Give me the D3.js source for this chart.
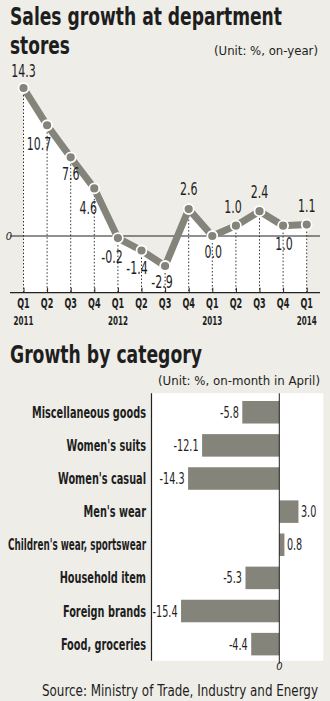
<!DOCTYPE html>
<html>
<head>
<meta charset="utf-8">
<script src="https://cdn.jsdelivr.net/npm/d3@7"></script>
<style>
  body { margin: 0; background: #eeede7; }
  svg { display: block; font-family: "DejaVu Sans Condensed", "DejaVu Sans", sans-serif; }
</style>
</head>
<body>
<div id="chart"></div>
<script>
// quarterly sales growth, on-year
var quarters = ["Q1", "Q2", "Q3", "Q4", "Q1", "Q2", "Q3", "Q4", "Q1", "Q2", "Q3", "Q4", "Q1"];
var years = ["2011", "", "", "", "2012", "", "", "", "2013", "", "", "", "2014"];
var growth = [14.3, 10.7, 7.6, 4.6, -0.2, -1.4, -2.9, 2.6, 0.0, 1.0, 2.4, 1.0, 1.1];

// growth by category, on-month in April
var categories = ["Miscellaneous goods", "Women's suits", "Women's casual", "Men's wear",
    "Children's wear, sportswear", "Household item", "Foreign brands", "Food, groceries"];
var categoryGrowth = [-5.8, -12.1, -14.3, 3.0, 0.8, -5.3, -15.4, -4.4];

// where each point label sits: [dx, dy] from the point
var labelOffset = [[0, -11], [-8, 25], [0, 23], [-6, 26], [-6, 25], [-4.5, 24], [-3, 22],
    [0, -14], [1, 22], [-3, -13], [0, -13], [1, 24], [0, -13]];

var svgWidth = 330;
var svgHeight = 701;
var ink = "#1e1e1e";
var gray = "#85847a";

// squeeze text horizontally so that refString comes out refWidth wide,
// and nothing gets wider than maxWidth
function condense(sel, refString, refWidth, maxWidth) {
    var ratio = 1;
    sel.each(function () {
        if (this.textContent === refString) ratio = refWidth / this.getComputedTextLength();
    });
    sel.each(function () {
        var w = this.getComputedTextLength() * ratio;
        if (maxWidth && w > maxWidth) w = maxWidth;
        if (w > 0) {
            d3.select(this)
                .attr("textLength", w)
                .attr("lengthAdjust", "spacingAndGlyphs");
        }
    });
}

function fixedText(parent, x, y, anchor, size, weight, width, str) {
    return parent.append("text")
        .attr("x", x).attr("y", y)
        .attr("text-anchor", anchor)
        .attr("textLength", width).attr("lengthAdjust", "spacingAndGlyphs")
        .style("font-size", size + "px").style("font-weight", weight).style("fill", ink)
        .text(str);
}

var svg = d3.select("#chart")
    .append("svg")
    .attr("width", svgWidth)
    .attr("height", svgHeight);

// ---- titles
fixedText(svg, 10, 25, "start", 25, "bold", 272, "Sales growth at department");
fixedText(svg, 10, 54, "start", 25, "bold", 60, "stores");
fixedText(svg, 318, 55, "end", 13, "normal", 104, "(Unit: %, on-year)");

// ---- line chart
var baseY = 292.7;
var xScale = d3.scalePoint()
    .domain(d3.range(growth.length))
    .range([23.5, 306.7]);
var yScale = d3.scaleLinear()
    .domain([0, 14.3])
    .range([236, 88]);

var lineGroup = svg.append("g");

// white fill below the line
lineGroup.append("path")
    .datum(growth)
    .attr("d", d3.area()
        .x((d, i) => xScale(i))
        .y0(baseY)
        .y1(d => yScale(d)))
    .attr("fill", "#ffffff");

// dotted drop lines
lineGroup.selectAll(".drop")
    .data(growth)
    .enter()
    .append("line")
    .attr("x1", (d, i) => xScale(i))
    .attr("x2", (d, i) => xScale(i))
    .attr("y1", d => yScale(d))
    .attr("y2", baseY)
    .attr("stroke", "#333")
    .attr("stroke-width", 1)
    .attr("stroke-dasharray", "1.5,2");

// zero line
lineGroup.append("line")
    .attr("x1", 10).attr("x2", 320)
    .attr("y1", yScale(0)).attr("y2", yScale(0))
    .attr("stroke", "#222").attr("stroke-width", 1);
lineGroup.append("text")
    .attr("x", 9).attr("y", yScale(0) + 4)
    .attr("text-anchor", "middle")
    .style("font-size", "11px").style("font-style", "italic").style("fill", ink)
    .text("0");

// bottom axis
var xAxis = d3.axisBottom(xScale).tickSize(-5).tickFormat("").tickSizeOuter(0);
var axisG = lineGroup.append("g")
    .attr("transform", `translate(0, ${baseY})`)
    .call(xAxis);
axisG.select(".domain").remove();
axisG.selectAll(".tick line").attr("stroke", "#222");
lineGroup.append("line")
    .attr("x1", 10).attr("x2", 320)
    .attr("y1", baseY).attr("y2", baseY)
    .attr("stroke", "#222").attr("stroke-width", 1.2);

var qLabels = lineGroup.selectAll(".qLabel")
    .data(quarters)
    .enter()
    .append("text")
    .attr("x", (d, i) => xScale(i))
    .attr("y", 307.5)
    .attr("text-anchor", "middle")
    .style("font-size", "14px").style("font-weight", "bold").style("fill", ink)
    .text(d => d);
condense(qLabels, "Q1", 12.5);

var yLabels = lineGroup.selectAll(".yLabel")
    .data(years)
    .enter()
    .append("text")
    .attr("x", (d, i) => xScale(i))
    .attr("y", 324.5)
    .attr("text-anchor", "middle")
    .style("font-size", "11.5px").style("font-weight", "bold").style("fill", ink)
    .text(d => d);
condense(yLabels, "2011", 20);

// the line and its points
lineGroup.append("path")
    .datum(growth)
    .attr("d", d3.line()
        .x((d, i) => xScale(i))
        .y(d => yScale(d)))
    .attr("fill", "none")
    .attr("stroke", gray)
    .attr("stroke-width", 7)
    .attr("stroke-linejoin", "round");

lineGroup.selectAll(".dot")
    .data(growth)
    .enter()
    .append("circle")
    .attr("cx", (d, i) => xScale(i))
    .attr("cy", d => yScale(d))
    .attr("r", 5)
    .attr("fill", gray)
    .attr("stroke", "#ffffff")
    .attr("stroke-width", 1.8);

var valLabels = lineGroup.selectAll(".valLabel")
    .data(growth)
    .enter()
    .append("text")
    .attr("x", (d, i) => xScale(i) + labelOffset[i][0])
    .attr("y", (d, i) => yScale(d) + labelOffset[i][1])
    .attr("text-anchor", "middle")
    .style("font-size", "17.5px").style("fill", ink)
    .text(d => d.toFixed(1));
condense(valLabels, "10.7", 24.5);

// ---- bar chart
fixedText(svg, 10, 363, "start", 25, "bold", 192, "Growth by category");
fixedText(svg, 320, 385, "end", 13, "normal", 162, "(Unit: %, on-month in April)");

var plotLeft = 151.5;
var plotRight = 323.3;
var plotTop = 393.3;
var plotBottom = 660.7;

var barX = d3.scaleLinear()
    .domain([0, 1])
    .range([279.3, 279.3 + 6.38]);
var barY = d3.scaleBand()
    .domain(categories)
    .range([plotTop + 2.4, plotBottom])
    .paddingInner(0.32)
    .paddingOuter(0.16);

var barGroup = svg.append("g");

barGroup.append("rect")
    .attr("x", plotLeft).attr("y", plotTop)
    .attr("width", plotRight - plotLeft).attr("height", plotBottom - plotTop)
    .attr("fill", "#ffffff");
barGroup.append("line")
    .attr("x1", plotLeft).attr("x2", plotLeft)
    .attr("y1", plotTop).attr("y2", plotBottom)
    .attr("stroke", "#222").attr("stroke-width", 1.2);

barGroup.selectAll(".bar")
    .data(categoryGrowth)
    .enter()
    .append("rect")
    .attr("x", d => Math.min(barX(d), barX(0)))
    .attr("y", (d, i) => barY(categories[i]))
    .attr("width", d => Math.abs(barX(d) - barX(0)))
    .attr("height", barY.bandwidth())
    .attr("fill", gray);

barGroup.append("line")
    .attr("x1", barX(0)).attr("x2", barX(0))
    .attr("y1", plotTop).attr("y2", plotBottom + 3)
    .attr("stroke", "#222").attr("stroke-width", 1);
barGroup.append("text")
    .attr("x", barX(0)).attr("y", 670)
    .attr("text-anchor", "middle")
    .style("font-size", "11px").style("font-style", "italic").style("fill", ink)
    .text("0");

// category names
var catLabels = barGroup.selectAll(".catLabel")
    .data(categories)
    .enter()
    .append("text")
    .attr("x", 146)
    .attr("y", d => barY(d) + barY.bandwidth() / 2 + 5.5)
    .attr("text-anchor", "end")
    .style("font-size", "16px").style("font-weight", "bold").style("fill", ink)
    .text(d => d);
condense(catLabels, "Miscellaneous goods", 114, 138);

// values at the bar ends
var barLabels = barGroup.selectAll(".barLabel")
    .data(categoryGrowth)
    .enter()
    .append("text")
    .attr("x", d => d < 0 ? barX(d) - 3.5 : barX(d) + 2.5)
    .attr("y", (d, i) => barY(categories[i]) + barY.bandwidth() / 2 + 5.5)
    .attr("text-anchor", d => d < 0 ? "end" : "start")
    .style("font-size", "15px").style("fill", ink)
    .text(d => d.toFixed(1));
condense(barLabels, "-14.3", 25);

fixedText(svg, 318, 696, "end", 15, "normal", 276, "Source: Ministry of Trade, Industry and Energy");
</script>
</body>
</html>
